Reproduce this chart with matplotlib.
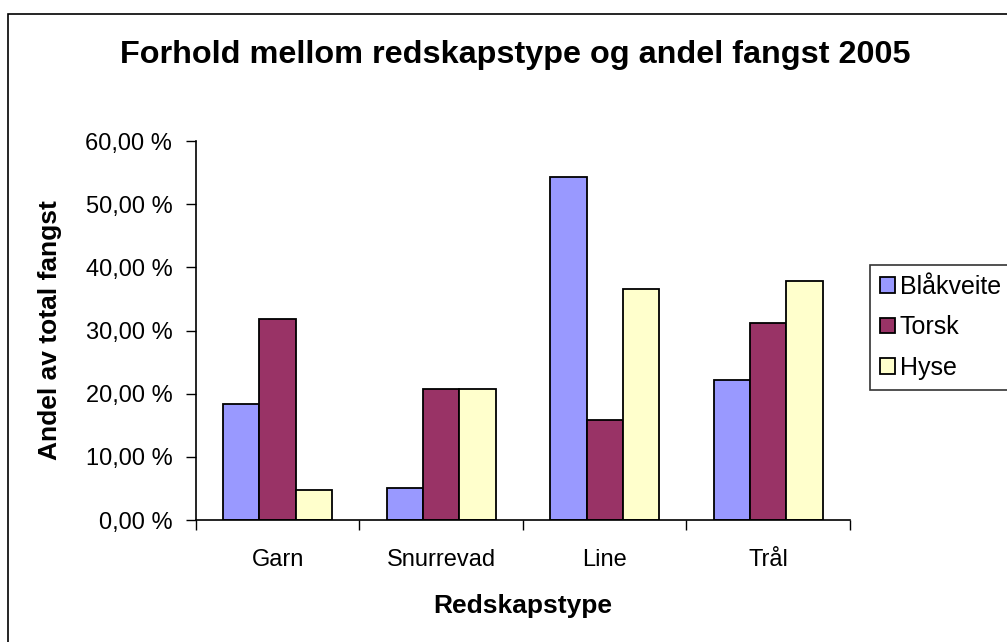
import matplotlib
matplotlib.use("Agg")
import matplotlib.pyplot as plt
import numpy as np
from matplotlib.ticker import FuncFormatter, FixedLocator
from matplotlib.patches import Rectangle

plt.rcParams['font.family'] = ['Liberation Sans', 'DejaVu Sans']

categories = ['Garn', 'Snurrevad', 'Line', 'Tr\u00e5l']
series = ['Bl\u00e5kveite', 'Torsk', 'Hyse']
blaakveite = [18.3, 5.0, 54.3, 22.1]
torsk = [31.8, 20.8, 15.8, 31.2]
hyse = [4.7, 20.8, 36.6, 37.8]
colors = ['#9999FF', '#993366', '#FFFFCC']

fig = plt.figure(figsize=(10.07, 6.42), dpi=100)
ax = fig.add_axes([0.1946, 0.19, 0.6495, 0.5903])

# chart frame like Excel
fig.patches.append(Rectangle((8 / 1007, -0.1), 1.2, 1 - 14 / 642 + 0.1,
                             transform=fig.transFigure, fill=False,
                             edgecolor='black', linewidth=1.2))

x = np.arange(len(categories))
w = 0.223
for i, (vals, name) in enumerate(zip([blaakveite, torsk, hyse], series)):
    ax.bar(x + (i - 1) * w, vals, width=w, color=colors[i],
           edgecolor='black', linewidth=1.3, label=name)

ax.set_xlim(-0.5, len(categories) - 0.5)
ax.set_ylim(0, 60)
ax.set_yticks(np.arange(0, 61, 10))
ax.yaxis.set_major_formatter(FuncFormatter(lambda v, p: '{:.2f} %'.format(v).replace('.', ',')))
ax.tick_params(axis='y', labelsize=17, length=7, width=1, direction='out', pad=10)

ax.set_xticks(x)
ax.set_xticklabels(categories)
ax.tick_params(axis='x', which='major', length=0, labelsize=17, pad=21)
ax.xaxis.set_minor_locator(FixedLocator(np.arange(-0.5, len(categories), 1)))
ax.tick_params(axis='x', which='minor', length=7, width=1, direction='out')

for s in ['top', 'right']:
    ax.spines[s].set_visible(False)
for s in ['left', 'bottom']:
    ax.spines[s].set_linewidth(1.2)

ax.set_xlabel('Redskapstype', fontsize=19, fontweight='bold')
ax.xaxis.set_label_coords(0.5, (520 - 606) / 379, transform=ax.transAxes)
ax.xaxis.label.set_va('center')
ax.set_ylabel('Andel av total fangst', fontsize=19, fontweight='bold')
ax.yaxis.set_label_coords((50 - 196) / 654, 0.5, transform=ax.transAxes)
ax.yaxis.label.set_va('center')
fig.text(0.512, 1 - 55 / 642, 'Forhold mellom redskapstype og andel fangst 2005',
         ha='center', va='center', fontsize=23.3, fontweight='bold')

leg = fig.legend(loc='upper left', bbox_to_anchor=(870 / 1007, 1 - 265 / 642),
                 fontsize=18, frameon=True, fancybox=False, handlelength=0.6,
                 handleheight=0.6, handletextpad=0.2, borderpad=0.4,
                 labelspacing=0.65, borderaxespad=0)
leg.get_frame().set_edgecolor('black')
leg.get_frame().set_linewidth(1.2)

fig.savefig('out.png', dpi=100)
